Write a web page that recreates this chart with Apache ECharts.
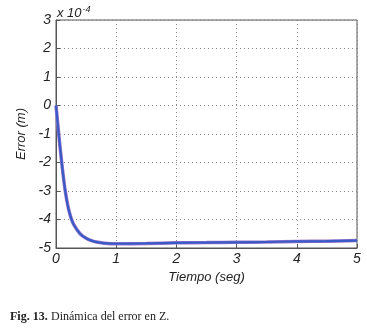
<!DOCTYPE html>
<html>
<head>
<meta charset="utf-8">
<script src="https://cdn.jsdelivr.net/npm/echarts@6/dist/echarts.min.js"></script>
<style>
  html, body { margin: 0; padding: 0; background: #fff; }
  #chart { width: 367px; height: 329px; }
</style>
</head>
<body>
<div id="chart"></div>
<script>
// tiempo (seg) y error en unidades de 1e-4 m
const tiempo = [0, 0.05, 0.1, 0.15, 0.2, 0.25, 0.3, 0.4, 0.5, 0.6, 0.7, 0.8, 1, 1.5, 2, 2.5, 3, 3.5, 4, 4.5, 5]
const errorZ = [0, -1.1, -2.1, -2.95, -3.55, -3.95, -4.2, -4.5, -4.66, -4.75, -4.8, -4.83, -4.85, -4.84, -4.82, -4.81, -4.8, -4.79, -4.77, -4.76, -4.74]
const xTicks = [0, 1, 2, 3, 4, 5]
const yTicks = [-5, -4, -3, -2, -1, 0, 1, 2, 3]

const pts = tiempo.map((t, i) => [t, errorZ[i]])
const font = 'Liberation Sans, Arial, sans-serif'

let chart = echarts.init(document.getElementById('chart'))
chart.setOption({
  animation: false,
  grid: {
    left: 56, right: 10, top: 20, bottom: 81,
    show: true, borderColor: '#555', borderWidth: 1
  },
  xAxis: {
    type: 'value',
    min: xTicks[0], max: xTicks[xTicks.length - 1], interval: 1,
    name: 'Tiempo (seg)', nameLocation: 'middle', nameGap: 21,
    nameTextStyle: { fontFamily: font, fontStyle: 'italic', fontSize: 13, color: '#222' },
    axisLine: { onZero: false, lineStyle: { color: '#555' } },
    axisTick: { inside: true, length: 4, lineStyle: { color: '#555' } },
    axisLabel: { fontFamily: font, fontStyle: 'italic', fontSize: 14, color: '#222', margin: 4 },
    splitLine: { show: true, lineStyle: { type: [1, 3], color: '#888' } }
  },
  yAxis: {
    type: 'value',
    min: yTicks[0], max: yTicks[yTicks.length - 1], interval: 1,
    name: 'Error (m)', nameLocation: 'middle', nameGap: 27,
    nameTextStyle: { fontFamily: font, fontStyle: 'italic', fontSize: 13, color: '#222' },
    axisLine: { onZero: false, lineStyle: { color: '#555' } },
    axisTick: { inside: true, length: 4, lineStyle: { color: '#555' } },
    axisLabel: { fontFamily: font, fontStyle: 'italic', fontSize: 14, color: '#222', margin: 5 },
    splitLine: { show: true, lineStyle: { type: [1, 3], color: '#888' } }
  },
  graphic: [
    {
      type: 'text', left: 57, top: 5,
      style: {
        text: '{a|x 10}{b|-4}',
        rich: {
          a: { fontFamily: font, fontStyle: 'italic', fontSize: 13, fill: '#222' },
          b: { fontFamily: font, fontStyle: 'italic', fontSize: 9, fill: '#222', verticalAlign: 'top', padding: [0, 0, 8, 1] }
        }
      }
    },
    {
      type: 'text', left: 10, top: 311,
      style: {
        text: '{b|Fig. 13.} {n|Dinámica del error en Z.}',
        rich: {
          b: { fontFamily: 'Liberation Serif, serif', fontWeight: 'bold', fontSize: 12, fill: '#222' },
          n: { fontFamily: 'Liberation Serif, serif', fontSize: 12, fill: '#222' }
        }
      }
    }
  ],
  series: [
    {
      type: 'line', data: pts, smooth: 0.3, showSymbol: false,
      lineStyle: { color: '#9a78c8', width: 3.5 }
    },
    {
      type: 'line', data: pts, smooth: 0.3, showSymbol: false,
      lineStyle: { color: '#3a5ac8', width: 2.2 }
    }
  ]
})
</script>
</body>
</html>
